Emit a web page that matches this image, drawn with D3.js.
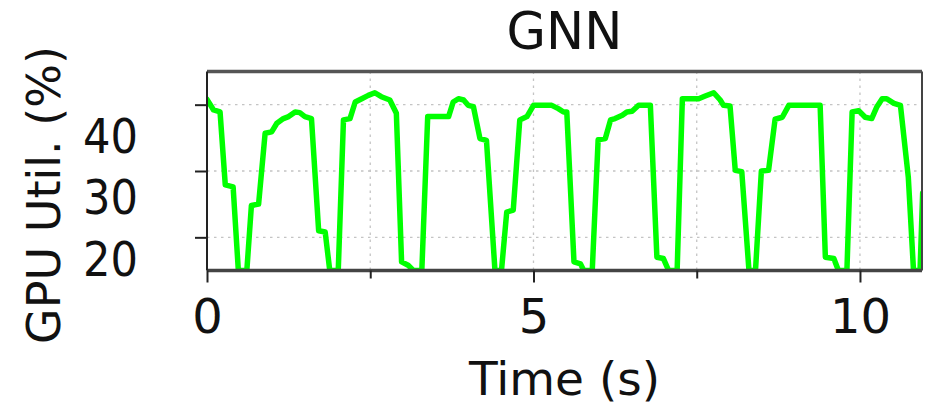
<!DOCTYPE html>
<html>
<head>
<meta charset="utf-8">
<script src="https://cdn.jsdelivr.net/npm/d3@7/dist/d3.min.js"></script>
<style>
  html, body { margin: 0; padding: 0; background: #fff; }
  svg { display: block; }
  text { font-family: "DejaVu Sans", sans-serif; fill: #111; }
</style>
</head>
<body>
<svg id="chart" width="925" height="406"></svg>
<script>
// ---- data ----
const title = "GNN";
const xLabel = "Time (s)";
const yLabel = "GPU Util. (%)";
const xTickValues = [0, 2.5, 5, 7.5, 10];
const xTickLabels = ["0", "", "5", "", "10"];
const yTickValues = [20, 30, 40];
const yTickLabels = ["20", "30", "40"];
const time = [0.00,0.10,0.20,0.28,0.40,0.48,0.61,0.68,0.79,0.89,0.99,1.07,1.17,1.25,1.35,1.42,1.50,1.60,1.71,1.81,1.88,2.01,2.09,2.19,2.27,2.37,2.47,2.57,2.67,2.80,2.90,2.98,3.08,3.16,3.29,3.38,3.70,3.77,3.85,3.93,4.00,4.08,4.18,4.28,4.41,4.51,4.59,4.69,4.79,4.90,5.00,5.28,5.38,5.46,5.51,5.62,5.72,5.77,5.90,5.99,6.10,6.18,6.25,6.36,6.43,6.51,6.61,6.79,6.89,6.99,7.07,7.20,7.28,7.53,7.63,7.76,7.86,7.91,8.01,8.09,8.19,8.30,8.40,8.49,8.60,8.70,8.81,8.91,9.39,9.47,9.60,9.67,9.80,9.88,9.98,10.08,10.18,10.26,10.34,10.41,10.52,10.62,10.74,10.82,10.92,10.96];
const gpuUtil = [40.8,39.2,38.9,27.9,27.6,15,15,24.8,25.0,35.7,35.9,37.2,37.9,38.2,38.9,38.8,38.2,37.9,21.0,20.8,15,15,37.7,37.9,40.4,40.9,41.4,41.8,41.2,40.7,38.7,16.3,15.8,15,15,38.2,38.2,40.4,40.9,40.7,39.9,39.7,34.9,34.6,15,15,23.8,24.1,37.7,38.2,39.9,39.9,39.4,38.9,38.9,16.3,16.0,15,15,34.7,34.9,37.7,37.9,38.4,38.9,39.0,39.9,39.9,17.0,16.8,15,15,40.9,40.9,41.3,41.8,40.7,39.9,39.8,30.1,29.9,15,15,30.0,30.1,37.8,38.1,39.9,39.9,17.0,16.8,15,15,38.9,39.1,38.1,37.9,39.7,40.9,40.9,40.2,39.9,29.1,15,15,26.7];

// ---- layout ----
const svg = d3.select("#chart");
const pLeft = 207, pRight = 922, pTop = 71.5, pBottom = 270.5;

const x = d3.scaleLinear().domain([0, 10.95]).range([pLeft, pRight]);
const y = d3.scaleLinear().domain([15, 45]).range([pBottom, pTop]);
// tick labels in the reference sit lower than their ticks
const yLab = d3.scaleLinear().domain([20, 40]).range([275, 152]);

// clip
svg.append("defs").append("clipPath").attr("id", "clip")
  .append("rect").attr("x", pLeft).attr("y", pTop).attr("width", pRight - pLeft).attr("height", pBottom - pTop);

// grid
const grid = svg.append("g");
grid.selectAll("line.gy").data(yTickValues).join("line")
  .attr("x1", pLeft).attr("x2", pRight).attr("y1", d => y(d)).attr("y2", d => y(d))
  .attr("stroke", "#c4c4c4").attr("stroke-width", 1.3).attr("stroke-dasharray", "2.5,4.5");
grid.selectAll("line.gx").data(xTickValues.filter(d => d > 0)).join("line")
  .attr("x1", d => x(d)).attr("x2", d => x(d)).attr("y1", pTop).attr("y2", pBottom)
  .attr("stroke", "#c4c4c4").attr("stroke-width", 1.3).attr("stroke-dasharray", "2.5,4.5");

// line
const line = d3.line().x((d, i) => x(time[i])).y(d => y(d));
svg.append("path").datum(gpuUtil)
  .attr("clip-path", "url(#clip)")
  .attr("d", line)
  .attr("fill", "none").attr("stroke", "#00ff00").attr("stroke-width", 5.5)
  .attr("stroke-linejoin", "round").attr("stroke-linecap", "round");

// frame
svg.append("line").attr("x1", pLeft).attr("x2", pRight).attr("y1", pTop).attr("y2", pTop)
  .attr("stroke", "#555").attr("stroke-width", 3.5);
svg.append("line").attr("x1", pLeft).attr("x2", pRight).attr("y1", pBottom).attr("y2", pBottom)
  .attr("stroke", "#444").attr("stroke-width", 3.5);
svg.append("line").attr("x1", pLeft).attr("x2", pLeft).attr("y1", pTop).attr("y2", pBottom)
  .attr("stroke", "#222").attr("stroke-width", 2);
svg.append("line").attr("x1", pRight).attr("x2", pRight).attr("y1", pTop).attr("y2", pBottom)
  .attr("stroke", "#444").attr("stroke-width", 2);

// x axis ticks
const xAxis = d3.axisBottom(x).tickValues(xTickValues)
  .tickFormat((d, i) => xTickLabels[i]).tickSize(12).tickSizeOuter(0);
const gx = svg.append("g").attr("transform", `translate(0,${pBottom})`).call(xAxis);
gx.select(".domain").remove();
gx.selectAll(".tick line").attr("stroke", "#222").attr("stroke-width", 2)
  .attr("y2", (d, i) => xTickLabels[i] ? 12 : 8);
gx.selectAll(".tick text").attr("y", 62).attr("dy", 0)
  .style("font-size", "48px").attr("fill", "#111");

// y axis ticks (marks)
const yAxis = d3.axisLeft(y).tickValues(yTickValues).tickFormat("").tickSize(12).tickSizeOuter(0);
const gy = svg.append("g").attr("transform", `translate(${pLeft},0)`).call(yAxis);
gy.select(".domain").remove();
gy.selectAll(".tick line").attr("stroke", "#222").attr("stroke-width", 2);

// y tick labels (offset positions as in the reference)
const yLabAxis = d3.axisLeft(yLab).tickValues(yTickValues)
  .tickFormat((d, i) => yTickLabels[i]).tickSize(0).tickPadding(0);
const gyl = svg.append("g").attr("transform", `translate(138,0)`).call(yLabAxis);
gyl.select(".domain").remove();
gyl.selectAll(".tick line").remove();
gyl.selectAll(".tick text").attr("x", 0).attr("dy", 0)
  .attr("transform", "scale(0.9,1)")
  .style("font-size", "48px").attr("fill", "#111");

// title
svg.append("text").attr("x", (pLeft + pRight) / 2).attr("y", 49)
  .attr("text-anchor", "middle").style("font-size", "51px").text(title);

// x label
svg.append("text").attr("x", (pLeft + pRight) / 2).attr("y", 395)
  .attr("text-anchor", "middle").style("font-size", "47px").text(xLabel);

// y label
svg.append("text").attr("transform", "translate(60,195) rotate(-90)")
  .attr("text-anchor", "middle").style("font-size", "46px").text(yLabel);
</script>
</body>
</html>
